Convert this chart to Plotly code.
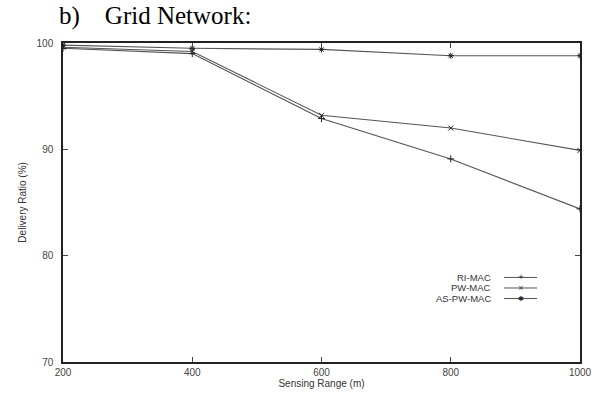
import plotly.graph_objects as go

x_range = [200, 400, 600, 800, 1000]
ri_mac = [99.5, 99.0, 92.9, 89.1, 84.4]
pw_mac = [99.6, 99.2, 93.2, 92.0, 89.9]
as_pw_mac = [99.8, 99.5, 99.4, 98.8, 98.8]
series_names = ["RI-MAC", "PW-MAC", "AS-PW-MAC"]
x_ticks = [200, 400, 600, 800, 1000]
y_ticks = [70, 80, 90, 100]

symbols = ["cross-thin", "x-thin", "asterisk"]
series = [ri_mac, pw_mac, as_pw_mac]

fig = go.Figure()
for name, vals, sym in zip(series_names, series, symbols):
    fig.add_trace(go.Scatter(
        x=x_range, y=vals, name=name, mode="lines+markers",
        line=dict(color="#555555", width=1.1),
        marker=dict(symbol=sym, size=5, line=dict(color="#222222", width=1), color="#222222"),
        showlegend=False,
    ))

# custom legend (text with the line sample to its right, gnuplot style)
leg_y = [0.265, 0.232, 0.199]
glyphs = ["+", "×", "✱"]
for name, ly, g in zip(series_names, leg_y, glyphs):
    fig.add_annotation(xref="paper", yref="paper", x=0.832, y=ly, text=name,
                       showarrow=False, xanchor="right", yanchor="middle",
                       font=dict(family="Liberation Sans, Arial", size=9.5, color="#333333"))
    fig.add_shape(type="line", xref="paper", yref="paper", x0=0.853, x1=0.917, y0=ly, y1=ly,
                  line=dict(color="#555555", width=1))
    fig.add_annotation(xref="paper", yref="paper", x=0.885, y=ly, text=g,
                       showarrow=False, xanchor="center", yanchor="middle",
                       font=dict(family="DejaVu Sans", size=7, color="#222222"))

fig.add_annotation(xref="paper", yref="paper", x=0.0, y=1.0, yshift=27, xshift=-6,
                   text="b)    Grid Network:", showarrow=False, xanchor="left", yanchor="middle",
                   font=dict(family="Liberation Serif, Times New Roman", size=25, color="black"))

# y-axis title as a rotated annotation
fig.add_annotation(xref="paper", yref="paper", x=-0.079, y=0.5, text="Delivery Ratio (%)",
                   textangle=-90, showarrow=False, xanchor="center", yanchor="middle",
                   font=dict(family="Liberation Sans, Arial", size=10, color="#333333"))

fig.update_layout(
    width=595, height=394,
    margin=dict(l=63, r=15, t=43, b=32, autoexpand=False),
    paper_bgcolor="white", plot_bgcolor="white",
    font=dict(family="Liberation Sans, Arial", size=10, color="#333333"),
)
fig.update_xaxes(range=[200, 1000], tickvals=x_ticks, ticks="inside", ticklen=5,
                 showline=True, linecolor="#222222", linewidth=1.5, mirror="ticks",
                 showgrid=False, zeroline=False, automargin=False,
                 title=dict(text="Sensing Range (m)", standoff=1, font=dict(size=10)),
                 tickfont=dict(size=10, color="#444444"))
fig.update_yaxes(range=[70, 100], tickvals=y_ticks, ticks="inside", ticklen=5,
                 showline=True, linecolor="#222222", linewidth=1.5, mirror="ticks",
                 showgrid=False, zeroline=False, automargin=False, ticklabelstandoff=6,
                 tickfont=dict(size=10, color="#444444"))

fig.write_html("out.html")
